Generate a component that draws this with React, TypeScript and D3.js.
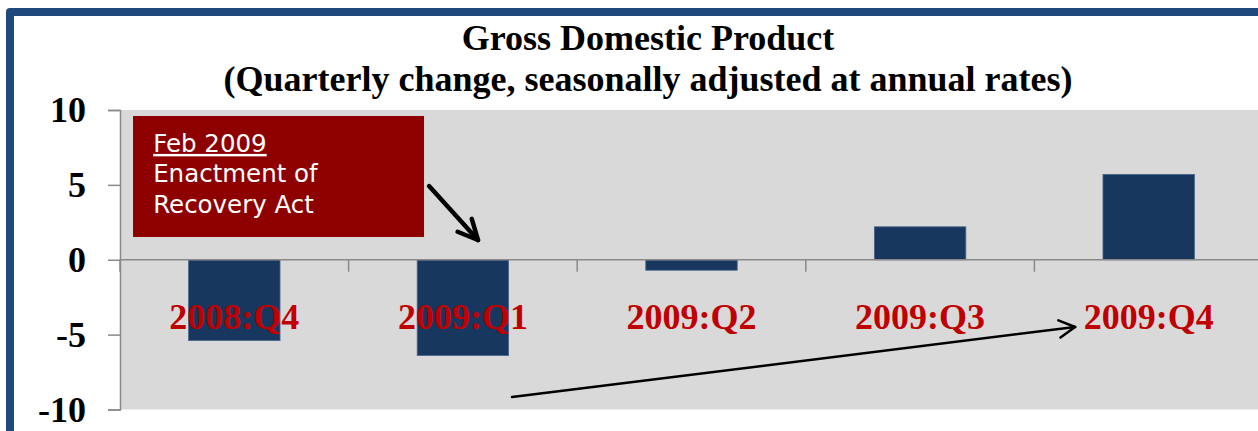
import React, { useEffect, useRef } from "react";
import * as d3 from "d3";

// GDP, quarterly change at annual rates (%)
const quarters = ["2008:Q4", "2009:Q1", "2009:Q2", "2009:Q3", "2009:Q4"];
const gdpChange = [-5.4, -6.4, -0.7, 2.2, 5.7];
const yTicks = [10, 5, 0, -5, -10];
const titleLines = [
  "Gross Domestic Product",
  "(Quarterly change, seasonally adjusted at annual rates)",
];
const noteLines = ["Feb 2009", "Enactment of", "Recovery Act"];

const W = 1258;
const H = 431;
const plot = { left: 120, right: 1263, top: 110, bottom: 409.5 };
const serif = "'Liberation Serif', 'Times New Roman', serif";

export default function App() {
  const svgRef = useRef<SVGSVGElement>(null);

  useEffect(() => {
    const svg = d3.select(svgRef.current);
    svg.selectAll("*").remove();

    const x = d3
      .scaleBand<string>()
      .domain(quarters)
      .range([plot.left, plot.right])
      .paddingInner(0.6)
      .paddingOuter(0.3);

    // continuous position along the category axis (0..n), for annotations
    const xi = d3.scaleLinear().domain([0, quarters.length]).range([plot.left, plot.right]);

    const y = d3.scaleLinear().domain([-10, 10]).range([plot.bottom, plot.top]);

    // frame
    svg
      .append("path")
      .attr("d", `M10,${H + 5} V12 H${W + 5}`)
      .attr("fill", "none")
      .attr("stroke", "#1F497D")
      .attr("stroke-width", 8)
      .attr("stroke-linejoin", "round");

    // titles
    svg
      .selectAll(".title")
      .data(titleLines)
      .join("text")
      .attr("class", "title")
      .attr("x", 648)
      .attr("y", (_, i) => 50 + i * 41)
      .attr("text-anchor", "middle")
      .attr("font-family", serif)
      .attr("font-weight", "bold")
      .attr("font-size", 36)
      .attr("fill", "#000")
      .text((d) => d);

    // plot background
    svg
      .append("rect")
      .attr("x", plot.left)
      .attr("y", plot.top)
      .attr("width", plot.right - plot.left)
      .attr("height", plot.bottom - plot.top)
      .attr("fill", "#D9D9D9");

    // bars
    svg
      .selectAll(".bar")
      .data(gdpChange)
      .join("rect")
      .attr("class", "bar")
      .attr("x", (_, i) => x(quarters[i])!)
      .attr("width", x.bandwidth())
      .attr("y", (d) => y(Math.max(0, d)))
      .attr("height", (d) => Math.abs(y(d) - y(0)))
      .attr("fill", "#17375E")
      .attr("stroke", "#4A6690")
      .attr("stroke-width", 0.8);

    // y axis
    const yAxis = d3
      .axisLeft(y)
      .tickValues(yTicks)
      .tickSize(12)
      .tickPadding(22)
      .tickFormat((d) => String(d));
    const gy = svg.append("g").attr("transform", `translate(${plot.left},0)`).call(yAxis);
    gy.select(".domain").attr("stroke", "#898989").attr("stroke-width", 1.5);
    gy.selectAll(".tick line").attr("stroke", "#898989").attr("stroke-width", 1.5);
    gy.selectAll(".tick text")
      .attr("font-family", serif)
      .attr("font-weight", "bold")
      .attr("font-size", 36)
      .attr("fill", "#000")
      .attr("dy", "0.32em");

    // zero line with category separators
    svg
      .append("line")
      .attr("x1", plot.left)
      .attr("x2", plot.right)
      .attr("y1", y(0))
      .attr("y2", y(0))
      .attr("stroke", "#898989")
      .attr("stroke-width", 1.5);
    svg
      .selectAll(".sep")
      .data(d3.range(0, quarters.length + 1))
      .join("line")
      .attr("class", "sep")
      .attr("x1", (d) => xi(d))
      .attr("x2", (d) => xi(d))
      .attr("y1", y(0))
      .attr("y2", y(0) + 12)
      .attr("stroke", "#898989")
      .attr("stroke-width", 1.5);

    // category labels
    svg
      .selectAll(".cat")
      .data(quarters)
      .join("text")
      .attr("class", "cat")
      .attr("x", (d) => x(d)! + x.bandwidth() / 2)
      .attr("y", y(-4.6))
      .attr("text-anchor", "middle")
      .attr("font-family", serif)
      .attr("font-weight", "bold")
      .attr("font-size", 36)
      .attr("fill", "#C00000")
      .text((d) => d);

    // annotation box
    svg
      .append("rect")
      .attr("x", xi(0.057))
      .attr("y", y(9.6))
      .attr("width", xi(1.33) - xi(0.057))
      .attr("height", y(1.52) - y(9.6))
      .attr("fill", "#8E0000");
    svg
      .selectAll(".note")
      .data(noteLines)
      .join("text")
      .attr("class", "note")
      .attr("x", xi(0.145))
      .attr("y", (_, i) => y(7.2) + i * 30.5)
      .attr("font-family", "'DejaVu Sans', Verdana, sans-serif")
      .attr("font-size", 24.5)
      .attr("fill", "#fff")
      .style("text-decoration", (_, i) => (i === 0 ? "underline" : "none"))
      .text((d) => d);

    // arrows
    const arrow = (x0: number, y0: number, x1: number, y1: number, w: number, head: number, spread: number) => {
      const g = svg.append("g").attr("stroke", "#000").attr("stroke-width", w).attr("stroke-linecap", "round").attr("fill", "none");
      const ax = xi(x0), ay = y(y0), bx = xi(x1), by = y(y1);
      g.append("line").attr("x1", ax).attr("y1", ay).attr("x2", bx).attr("y2", by);
      const ang = Math.atan2(by - ay, bx - ax);
      [-spread, spread].forEach((s) => {
        g.append("line")
          .attr("x1", bx)
          .attr("y1", by)
          .attr("x2", bx - head * Math.cos(ang + s))
          .attr("y2", by - head * Math.sin(ang + s));
      });
    };
    arrow(1.352, 4.92, 1.566, 1.32, 4.5, 22, 0.45);
    arrow(1.715, -9.17, 4.178, -4.49, 2.5, 18, 0.5);
  }, []);

  return (
    <svg
      ref={svgRef}
      width={W}
      height={H}
      style={{ position: "absolute", left: 0, top: 0, display: "block", background: "#fff" }}
    />
  );
}
